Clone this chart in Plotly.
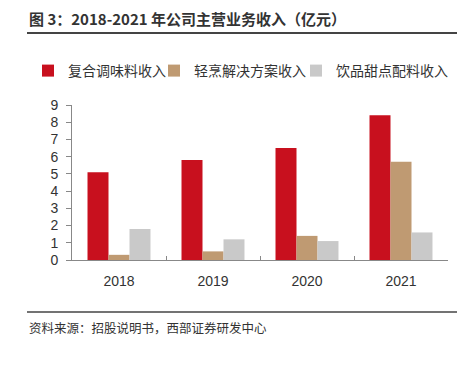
import plotly.graph_objects as go

years = ["2018", "2019", "2020", "2021"]
compound_seasoning = [5.1, 5.8, 6.5, 8.4]
light_cooking = [0.3, 0.5, 1.4, 5.7]
beverage_dessert = [1.8, 1.2, 1.1, 1.6]
series_names = ["复合调味料收入", "轻烹解决方案收入", "饮品甜点配料收入"]
series_colors = ["#C8101E", "#BF9A72", "#C9C9C9"]
y_ticks = list(range(0, 10))

# the page body has an 8px default margin; work in figure coordinates
OFF = 8
W, H = 465 - OFF, 373 - OFF
L, R, T = 72 - OFF, W - (448 - OFF), 105 - OFF
B = H - (260 - OFF)
pw, ph = W - L - R, H - T - B

def px(x):
    return (x - OFF - L) / pw

def py(y):
    return (H - B - (y - OFF)) / ph

legend_ids = ["legend", "legend2", "legend3"]
legend_text_x = [68, 194, 336]

fig = go.Figure()
for name, vals, col, lid in zip(series_names, [compound_seasoning, light_cooking, beverage_dessert],
                                series_colors, legend_ids):
    fig.add_trace(go.Bar(x=years, y=vals, name=name, legend=lid,
                         marker=dict(color=col, line=dict(width=0))))

axis_font = dict(family="Liberation Sans, Arial", size=14, color="#333333")
legend_font = dict(family="Noto Sans CJK SC", size=14, color="#333333")

layout_legends = {}
for lid, tx in zip(legend_ids, legend_text_x):
    layout_legends[lid] = dict(orientation="h", xref="container", yref="container",
                               x=(tx - OFF - 40) / W, xanchor="left",
                               y=1 - (71 - OFF) / H, yanchor="middle",
                               font=legend_font, itemwidth=30, bgcolor="rgba(0,0,0,0)",
                               borderwidth=0)

fig.update_layout(
    width=W, height=H,
    margin=dict(l=L, r=R, t=T, b=B, autoexpand=False),
    plot_bgcolor="white", paper_bgcolor="white",
    barmode="group", bargap=0.33, bargroupgap=0,
    font=dict(family="Noto Sans CJK SC", color="#333333"),
    showlegend=True,
    xaxis=dict(type="category", showline=True, linecolor="#888888", linewidth=1,
               ticks="inside", tickson="boundaries", ticklen=4, tickcolor="#888888",
               tickfont=axis_font, ticklabelstandoff=8, showgrid=False, zeroline=False),
    yaxis=dict(range=[0, 9], tickvals=y_ticks, showline=True, linecolor="#888888", linewidth=1,
               ticks="outside", ticklen=5, tickcolor="#888888", tickfont=axis_font,
               ticklabelstandoff=5, showgrid=False, zeroline=False),
    **layout_legends,
)

fig.add_annotation(xref="paper", yref="paper", x=px(27), y=py(19), xanchor="left", yanchor="middle",
                   text="<b>图 3：2018-2021 年公司主营业务收入（亿元）</b>", showarrow=False,
                   font=dict(family="Noto Sans CJK SC", size=15, color="#333333"))
fig.add_annotation(xref="paper", yref="paper", x=px(27), y=py(327), xanchor="left", yanchor="middle",
                   text="资料来源：招股说明书，西部证券研发中心", showarrow=False,
                   font=dict(family="Noto Sans CJK SC", size=12.5, color="#333333"))
fig.add_shape(type="line", xref="paper", yref="paper", x0=px(27), x1=px(462), y0=py(33), y1=py(33),
              line=dict(color="#444444", width=2))
fig.add_shape(type="line", xref="paper", yref="paper", x0=px(27), x1=px(462), y0=py(312), y1=py(312),
              line=dict(color="#444444", width=1.5))

fig.write_html("out.html")
